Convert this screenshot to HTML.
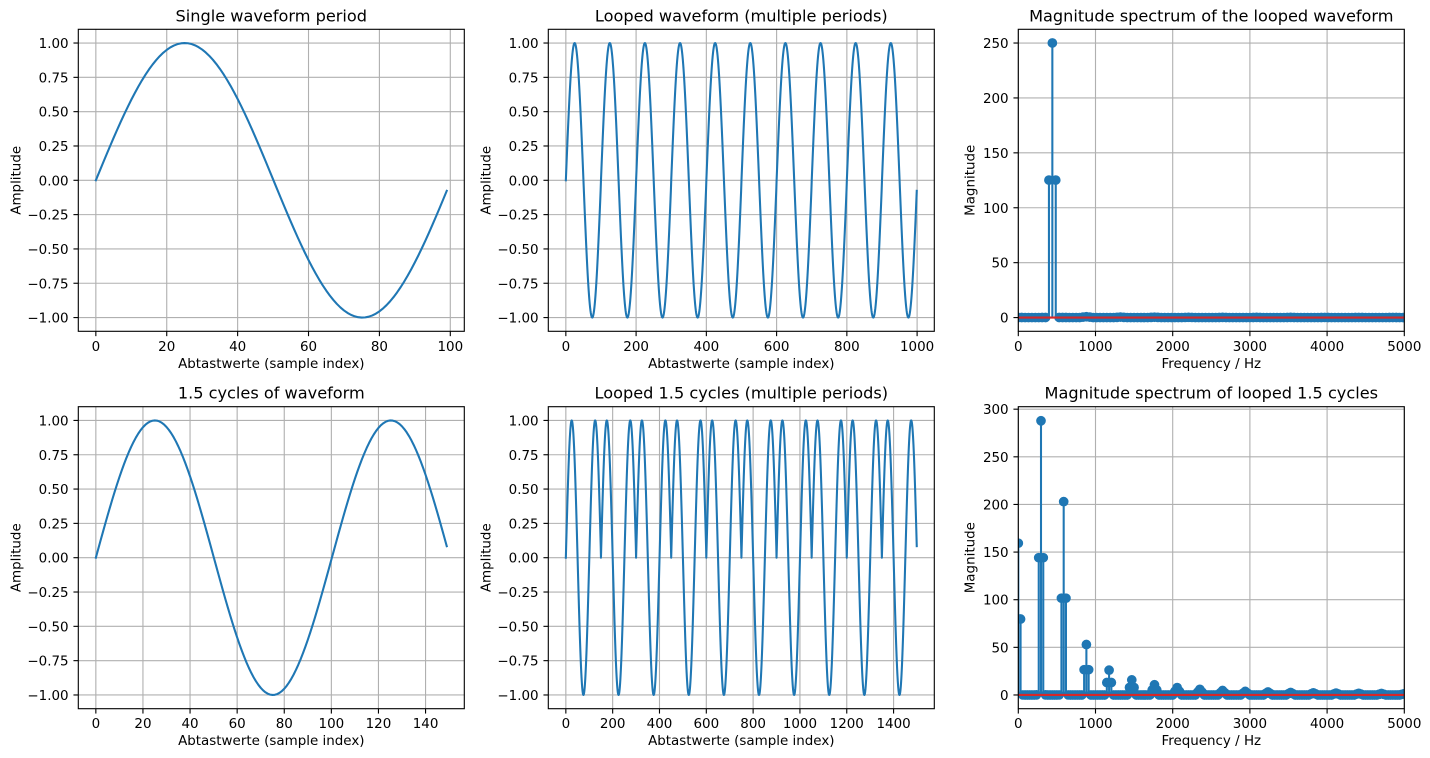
<!DOCTYPE html>
<html><head><meta charset="utf-8"><style>
html,body{margin:0;padding:0;background:#fff;}
svg{display:block;}
text{font-family:"DejaVu Sans","Liberation Sans",sans-serif;fill:#000;}
.tk{font-size:13.45px;}
.ttl{font-size:16.15px;text-anchor:middle;}
.xl{text-anchor:middle;}
.yl{text-anchor:end;}
</style></head><body>
<svg id="fig" xmlns="http://www.w3.org/2000/svg" width="1430" height="758" viewBox="0 0 1430 758">
<rect x="0" y="0" width="1430" height="758" fill="#fff"/>
<g id="plots"></g>
<g class="tk">
<!-- Titles -->
<text class="ttl" x="271.3" y="21.3">Single waveform period</text>
<text class="ttl" x="741.3" y="21.3">Looped waveform (multiple periods)</text>
<text class="ttl" x="1211.3" y="21.3">Magnitude spectrum of the looped waveform</text>
<text class="ttl" x="271.3" y="398.7">1.5 cycles of waveform</text>
<text class="ttl" x="741.3" y="398.7">Looped 1.5 cycles (multiple periods)</text>
<text class="ttl" x="1211.3" y="398.7">Magnitude spectrum of looped 1.5 cycles</text>

<!-- Axis labels -->
<text class="xl" x="271.3" y="367.8">Abtastwerte (sample index)</text>
<text class="xl" x="741.3" y="367.8">Abtastwerte (sample index)</text>
<text class="xl" x="1211.3" y="367.8">Frequency / Hz</text>
<text class="xl" x="271.3" y="745.2">Abtastwerte (sample index)</text>
<text class="xl" x="741.3" y="745.2">Abtastwerte (sample index)</text>
<text class="xl" x="1211.3" y="745.2">Frequency / Hz</text>
<text class="xl" transform="translate(20.5,180.3) rotate(-90)">Amplitude</text>
<text class="xl" transform="translate(490.5,180.3) rotate(-90)">Amplitude</text>
<text class="xl" transform="translate(974.5,180.3) rotate(-90)">Magnitude</text>
<text class="xl" transform="translate(20.5,557.7) rotate(-90)">Amplitude</text>
<text class="xl" transform="translate(490.5,557.7) rotate(-90)">Amplitude</text>
<text class="xl" transform="translate(974.5,557.7) rotate(-90)">Magnitude</text>

<!-- A1 x ticks -->
<text class="xl" x="95.85" y="350.8">0</text>
<text class="xl" x="166.74" y="350.8">20</text>
<text class="xl" x="237.63" y="350.8">40</text>
<text class="xl" x="308.52" y="350.8">60</text>
<text class="xl" x="379.41" y="350.8">80</text>
<text class="xl" x="450.30" y="350.8">100</text>
<!-- A1 y ticks -->
<text class="yl" x="68.6" y="48.03">1.00</text>
<text class="yl" x="68.6" y="82.35">0.75</text>
<text class="yl" x="68.6" y="116.66">0.50</text>
<text class="yl" x="68.6" y="150.98">0.25</text>
<text class="yl" x="68.6" y="185.30">0.00</text>
<text class="yl" x="68.6" y="219.62">−0.25</text>
<text class="yl" x="68.6" y="253.94">−0.50</text>
<text class="yl" x="68.6" y="288.26">−0.75</text>
<text class="yl" x="68.6" y="322.57">−1.00</text>

<!-- A2 x ticks -->
<text class="xl" x="565.85" y="350.8">0</text>
<text class="xl" x="636.10" y="350.8">200</text>
<text class="xl" x="706.35" y="350.8">400</text>
<text class="xl" x="776.60" y="350.8">600</text>
<text class="xl" x="846.86" y="350.8">800</text>
<text class="xl" x="917.11" y="350.8">1000</text>
<!-- A2 y ticks -->
<text class="yl" x="538.6" y="48.03">1.00</text>
<text class="yl" x="538.6" y="82.35">0.75</text>
<text class="yl" x="538.6" y="116.66">0.50</text>
<text class="yl" x="538.6" y="150.98">0.25</text>
<text class="yl" x="538.6" y="185.30">0.00</text>
<text class="yl" x="538.6" y="219.62">−0.25</text>
<text class="yl" x="538.6" y="253.94">−0.50</text>
<text class="yl" x="538.6" y="288.26">−0.75</text>
<text class="yl" x="538.6" y="322.57">−1.00</text>

<!-- A3 x ticks -->
<text class="xl" x="1018.3" y="350.8">0</text>
<text class="xl" x="1095.5" y="350.8">1000</text>
<text class="xl" x="1172.7" y="350.8">2000</text>
<text class="xl" x="1249.9" y="350.8">3000</text>
<text class="xl" x="1327.1" y="350.8">4000</text>
<text class="xl" x="1404.3" y="350.8">5000</text>
<!-- A3 y ticks -->
<text class="yl" x="1008.6" y="48.03">250</text>
<text class="yl" x="1008.6" y="102.94">200</text>
<text class="yl" x="1008.6" y="157.85">150</text>
<text class="yl" x="1008.6" y="212.76">100</text>
<text class="yl" x="1008.6" y="267.67">50</text>
<text class="yl" x="1008.6" y="322.57">0</text>

<!-- A4 x ticks -->
<text class="xl" x="95.85" y="728.2">0</text>
<text class="xl" x="142.95" y="728.2">20</text>
<text class="xl" x="190.05" y="728.2">40</text>
<text class="xl" x="237.15" y="728.2">60</text>
<text class="xl" x="284.25" y="728.2">80</text>
<text class="xl" x="331.36" y="728.2">100</text>
<text class="xl" x="378.46" y="728.2">120</text>
<text class="xl" x="425.56" y="728.2">140</text>
<!-- A4 y ticks -->
<text class="yl" x="68.6" y="425.43">1.00</text>
<text class="yl" x="68.6" y="459.75">0.75</text>
<text class="yl" x="68.6" y="494.06">0.50</text>
<text class="yl" x="68.6" y="528.38">0.25</text>
<text class="yl" x="68.6" y="562.70">0.00</text>
<text class="yl" x="68.6" y="597.02">−0.25</text>
<text class="yl" x="68.6" y="631.34">−0.50</text>
<text class="yl" x="68.6" y="665.66">−0.75</text>
<text class="yl" x="68.6" y="699.97">−1.00</text>

<!-- A5 x ticks -->
<text class="xl" x="565.85" y="728.2">0</text>
<text class="xl" x="612.67" y="728.2">200</text>
<text class="xl" x="659.49" y="728.2">400</text>
<text class="xl" x="706.31" y="728.2">600</text>
<text class="xl" x="753.13" y="728.2">800</text>
<text class="xl" x="799.94" y="728.2">1000</text>
<text class="xl" x="846.76" y="728.2">1200</text>
<text class="xl" x="893.58" y="728.2">1400</text>
<!-- A5 y ticks -->
<text class="yl" x="538.6" y="425.43">1.00</text>
<text class="yl" x="538.6" y="459.75">0.75</text>
<text class="yl" x="538.6" y="494.06">0.50</text>
<text class="yl" x="538.6" y="528.38">0.25</text>
<text class="yl" x="538.6" y="562.70">0.00</text>
<text class="yl" x="538.6" y="597.02">−0.25</text>
<text class="yl" x="538.6" y="631.34">−0.50</text>
<text class="yl" x="538.6" y="665.66">−0.75</text>
<text class="yl" x="538.6" y="699.97">−1.00</text>

<!-- A6 x ticks -->
<text class="xl" x="1018.3" y="728.2">0</text>
<text class="xl" x="1095.5" y="728.2">1000</text>
<text class="xl" x="1172.7" y="728.2">2000</text>
<text class="xl" x="1249.9" y="728.2">3000</text>
<text class="xl" x="1327.1" y="728.2">4000</text>
<text class="xl" x="1404.3" y="728.2">5000</text>
<!-- A6 y ticks -->
<text class="yl" x="1008.6" y="414.19">300</text>
<text class="yl" x="1008.6" y="461.82">250</text>
<text class="yl" x="1008.6" y="509.45">200</text>
<text class="yl" x="1008.6" y="557.08">150</text>
<text class="yl" x="1008.6" y="604.71">100</text>
<text class="yl" x="1008.6" y="652.35">50</text>
<text class="yl" x="1008.6" y="699.97">0</text>
</g>
</svg>
<script>
(function(){
var NS="http://www.w3.org/2000/svg";
var root=document.getElementById("plots");
function el(tag,attrs,parent){var e=document.createElementNS(NS,tag);for(var k in attrs)e.setAttribute(k,attrs[k]);(parent||root).appendChild(e);return e;}
var defs=el("defs",{});
var C0="#1f77b4",RED="#d62728",GRID="#b0b0b0";
function range(a,b,s){var r=[];for(var v=a;v<=b+1e-9;v+=s)r.push(Math.round(v*1000)/1000);return r;}
var TOP={T:29.3,B:331.3},BOT={T:406.7,B:708.7};
var M6=288.2;
var axes=[
 {L:78.3,R:464.3,T:TOP.T,B:TOP.B,x0:-4.95,x1:103.95,y0:-1.1,y1:1.1,xt:range(0,100,20),yt:range(-1,1,0.25)},
 {L:548.3,R:934.3,T:TOP.T,B:TOP.B,x0:-49.95,x1:1048.95,y0:-1.1,y1:1.1,xt:range(0,1000,200),yt:range(-1,1,0.25)},
 {L:1018.3,R:1404.3,T:TOP.T,B:TOP.B,x0:0,x1:5000,y0:-12.5,y1:262.5,xt:range(0,5000,1000),yt:range(0,250,50)},
 {L:78.3,R:464.3,T:BOT.T,B:BOT.B,x0:-7.45,x1:156.45,y0:-1.1,y1:1.1,xt:range(0,140,20),yt:range(-1,1,0.25)},
 {L:548.3,R:934.3,T:BOT.T,B:BOT.B,x0:-74.95,x1:1573.95,y0:-1.1,y1:1.1,xt:range(0,1400,200),yt:range(-1,1,0.25)},
 {L:1018.3,R:1404.3,T:BOT.T,B:BOT.B,x0:0,x1:5000,y0:-0.05*M6,y1:1.05*M6,xt:range(0,5000,1000),yt:range(0,300,50)}
];
axes.forEach(function(a,i){
 a.px=function(v){return a.L+(v-a.x0)/(a.x1-a.x0)*(a.R-a.L);};
 a.py=function(v){return a.T+(a.y1-v)/(a.y1-a.y0)*(a.B-a.T);};
 var cp=el("clipPath",{id:"cp"+i},defs);
 el("rect",{x:a.L,y:a.T,width:a.R-a.L,height:a.B-a.T},cp);
 a.g=el("g",{});
 a.xt.forEach(function(v){var x=a.px(v);el("line",{x1:x,x2:x,y1:a.T,y2:a.B,stroke:GRID,"stroke-width":1.11},a.g);});
 a.yt.forEach(function(v){var y=a.py(v);el("line",{x1:a.L,x2:a.R,y1:y,y2:y,stroke:GRID,"stroke-width":1.11},a.g);});
 a.d=el("g",{"clip-path":"url(#cp"+i+")"},a.g);
});
function wave(n){return Math.sin(2*Math.PI*440*n/44100);}
function drawLine(a,xs,ys){
 var d="";for(var i=0;i<xs.length;i++){d+=(i?"L":"M")+a.px(xs[i]).toFixed(2)+","+a.py(ys[i]).toFixed(2);}
 el("path",{d:d,fill:"none",stroke:C0,"stroke-width":2.08,"stroke-linejoin":"round","stroke-linecap":"square"},a.d);
}
var x1=[],y1=[];for(var n=0;n<100;n++){x1.push(n);y1.push(wave(n));}
drawLine(axes[0],x1,y1);
var x2=[],y2=[];for(var n=0;n<1000;n++){x2.push(n);y2.push(wave(n%100));}
drawLine(axes[1],x2,y2);
var x4=[],y4=[];for(var n=0;n<150;n++){x4.push(n);y4.push(wave(n));}
drawLine(axes[3],x4,y4);
var x5=[],y5=[];for(var n=0;n<1500;n++){x5.push(n);y5.push(wave(n%150));}
drawLine(axes[4],x5,y5);

function spectrum(sig,fmax){
 var N=sig.length,fs=44100,df=fs/N,kmax=Math.ceil(fmax/df)+1,out=[];
 var xw=new Array(N);
 for(var n=0;n<N;n++){xw[n]=sig[n]*(0.5-0.5*Math.cos(2*Math.PI*n/(N-1)));}
 for(var k=0;k<=kmax;k++){
  var re=0,im=0,w=2*Math.PI*k/N;
  for(var n=0;n<N;n++){re+=xw[n]*Math.cos(w*n);im-=xw[n]*Math.sin(w*n);}
  out.push([k*df,Math.sqrt(re*re+im*im)]);
 }
 return out;
}
function drawStem(a,sp){
 var d="";
 sp.forEach(function(p){var x=a.px(p[0]).toFixed(2);d+="M"+x+","+a.py(0).toFixed(2)+"V"+a.py(p[1]).toFixed(2);});
 el("path",{d:d,fill:"none",stroke:C0,"stroke-width":2.08},a.d);
 sp.forEach(function(p){el("circle",{cx:a.px(p[0]).toFixed(2),cy:a.py(p[1]).toFixed(2),r:4.17,fill:C0,stroke:C0,"stroke-width":1.39},a.d);});
 var y0=a.py(0);
 el("line",{x1:a.L,x2:a.R,y1:y0,y2:y0,stroke:RED,"stroke-width":2.08},a.d);
}
drawStem(axes[2],spectrum(y2,5070));
drawStem(axes[5],spectrum(y5,5070));

axes.forEach(function(a){
 el("rect",{x:a.L,y:a.T,width:a.R-a.L,height:a.B-a.T,fill:"none",stroke:"#000","stroke-width":1.11});
 a.xt.forEach(function(v){var x=a.px(v);el("line",{x1:x,x2:x,y1:a.B,y2:a.B+4.86,stroke:"#000","stroke-width":1.11});});
 a.yt.forEach(function(v){var y=a.py(v);el("line",{x1:a.L-4.86,x2:a.L,y1:y,y2:y,stroke:"#000","stroke-width":1.11});});
});
})();
</script>
</body></html>
